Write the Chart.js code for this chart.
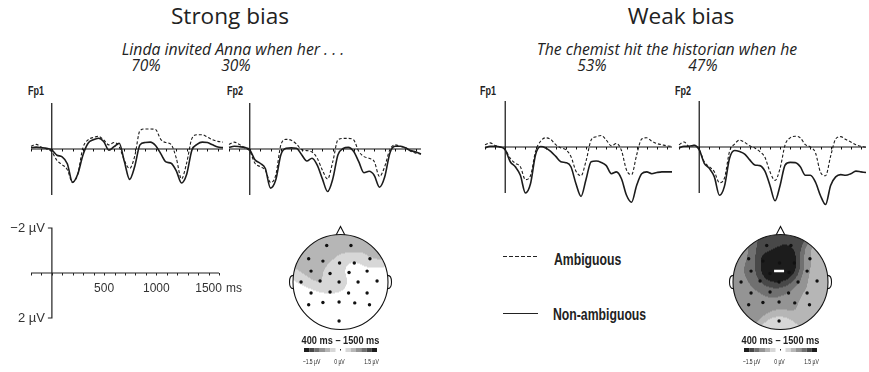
<!DOCTYPE html>
<html>
<head>
<meta charset="utf-8">
<script src="https://cdn.jsdelivr.net/npm/chart.js@4"></script>
<style>
  body { margin: 0; background: #fff; width: 869px; height: 372px; overflow: hidden; position: relative; font-family: "Open Sans", sans-serif; color: #222; }
  canvas { position: absolute; }
  .t { position: absolute; white-space: nowrap; }
  .title { font-size: 22.6px; line-height: 22px; width: 300px; text-align: center; }
  .sub { font-style: italic; font-size: 15.8px; line-height: 16px; width: 360px; text-align: center; }
  .pct { font-style: italic; font-size: 15.5px; line-height: 16px; width: 60px; text-align: center; }
  .narrow { font-family: "Liberation Sans", Arial, sans-serif; font-weight: bold; transform-origin: 0 0; }
  .el { font-size: 12px; line-height: 12px; transform: scaleX(0.75); }
  .leg { font-size: 17px; line-height: 17px; transform: scaleX(0.72); }
  .swatch { position: absolute; width: 35px; }
</style>
</head>
<body>

<div class="t title" style="left:80px;top:5px">Strong bias</div>
<div class="t sub" style="left:53px;top:41px">Linda invited Anna when her . . .</div>
<div class="t pct" style="left:116px;top:57px">70%</div>
<div class="t pct" style="left:206px;top:57px">30%</div>

<div class="t title" style="left:531px;top:5px">Weak bias</div>
<div class="t sub" style="left:487px;top:41px">The chemist hit the historian when he</div>
<div class="t pct" style="left:562px;top:57px">53%</div>
<div class="t pct" style="left:673px;top:57px">47%</div>

<div class="t narrow el" style="left:28px;top:85px">Fp1</div>
<div class="t narrow el" style="left:227px;top:85px">Fp2</div>
<div class="t narrow el" style="left:480px;top:85px">Fp1</div>
<div class="t narrow el" style="left:675px;top:85px">Fp2</div>

<canvas id="strongFp1" width="208" height="124" style="left:23px;top:91px"></canvas>
<canvas id="strongFp2" width="208" height="124" style="left:221px;top:91px"></canvas>
<canvas id="weakFp1" width="203" height="124" style="left:477px;top:89px"></canvas>
<canvas id="weakFp2" width="203" height="124" style="left:671px;top:89px"></canvas>

<canvas id="scaleBar" width="260" height="133" style="left:0px;top:215px"></canvas>
<canvas id="strongTopo" width="121" height="145" style="left:280px;top:222px"></canvas>
<canvas id="weakTopo" width="121" height="145" style="left:720px;top:222px"></canvas>

<div class="swatch" style="left:503px;top:256px;height:1px;background:repeating-linear-gradient(90deg,#222 0 4px,transparent 4px 6px)"></div>
<div class="t narrow leg" style="left:554px;top:251px">Ambiguous</div>
<div class="swatch" style="left:503px;top:313px;height:1.3px;background:#222"></div>
<div class="t narrow leg" style="left:553px;top:306px">Non-ambiguous</div>

<script>
// time axis (ms) shared by all waveforms
const times = [-200,-150,-100,-50,0,50,100,150,200,250,300,350,400,450,500,550,600,650,700,750,
  800,850,900,950,1000,1050,1100,1150,1200,1250,1300,1350,1400,1450,1500,1550,1600,1650];

// amplitudes in µV (negative plotted up)
const strongFp1Amb = [-0.12,-0.20,-0.08,0.00,0.12,0.50,0.68,0.90,1.45,1.10,-0.05,-0.40,-0.50,-0.55,-0.40,-0.18,-0.28,-0.10,0.50,0.85,
  0.30,-0.80,-0.87,-0.87,-0.85,-0.42,-0.28,-0.20,0.40,1.30,0.60,-0.45,-0.62,-0.62,-0.52,-0.40,-0.33,-0.30];
const strongFp1Non = [-0.06,-0.08,-0.06,-0.03,0.04,0.27,0.34,0.64,1.45,1.10,0.27,-0.25,-0.40,-0.47,-0.33,0.05,-0.10,-0.25,0.55,1.32,
  0.75,-0.18,-0.28,-0.30,-0.15,0.20,0.56,0.62,0.95,1.48,1.10,0.05,-0.20,-0.30,-0.28,-0.18,-0.09,-0.06];
const strongFp2Amb = [-0.20,-0.30,-0.20,-0.05,0.10,0.62,0.77,0.92,1.45,1.15,-0.18,-0.42,-0.38,-0.22,0.03,0.07,0.13,0.40,0.92,1.30,
  0.55,-0.40,-0.46,-0.46,-0.40,0.10,0.33,0.40,0.55,1.20,0.77,0.03,-0.18,-0.12,-0.05,0.10,0.18,0.22];
const strongFp2Non = [-0.07,-0.12,-0.10,-0.07,0.03,0.47,0.62,0.85,1.70,1.35,0.25,-0.03,-0.05,-0.03,0.25,0.52,0.40,0.70,1.30,1.85,
  1.30,0.25,-0.02,-0.07,0.10,0.55,1.03,0.97,1.15,1.66,1.22,0.18,-0.12,-0.12,-0.05,0.07,0.13,0.22];
const weakFp1Amb = [-0.10,-0.18,-0.07,0.00,0.12,0.49,0.71,0.86,1.42,1.25,0.19,-0.25,-0.40,-0.33,-0.10,0.04,0.12,0.41,1.05,1.25,
  0.60,-0.30,-0.45,-0.50,-0.30,-0.05,-0.15,0.15,1.00,1.20,0.35,-0.35,-0.40,-0.25,-0.15,-0.10,-0.05,-0.03];
const weakFp1Non = [0.04,-0.03,-0.03,0.00,0.12,0.64,0.86,1.23,2.00,1.60,0.34,-0.02,0.04,0.19,0.41,0.64,0.68,0.86,1.60,2.15,
  1.40,0.64,0.61,0.67,0.81,1.16,1.08,1.38,2.10,2.40,1.67,1.16,1.08,1.16,1.11,1.08,1.08,1.08];
const weakFp2Amb = [-0.10,-0.22,-0.03,-0.07,0.12,0.64,0.86,1.08,1.55,1.35,0.19,-0.13,-0.30,-0.20,-0.05,0.04,0.20,0.45,1.08,1.45,
  0.93,-0.10,-0.40,-0.47,-0.40,-0.10,0.00,0.25,1.10,1.25,0.40,-0.35,-0.45,-0.33,-0.22,-0.10,-0.03,0.01];
const weakFp2Non = [0.04,-0.03,-0.03,-0.07,0.12,0.71,0.93,1.30,2.10,1.70,0.49,0.15,0.20,0.31,0.56,0.78,0.81,1.05,1.67,2.34,
  1.67,0.78,0.67,0.68,0.86,1.23,1.23,1.53,2.12,2.50,1.67,1.30,1.20,1.23,1.16,1.05,1.08,1.11];

// calibration bar
const scaleTimeTicks = [500, 1000, 1500];
const scaleVoltTicks = [-2, 2];
const tickStep = 100;

// electrode layout (head units, nose up) and mean amplitude 400-1500 ms
const electrodeX = [-0.29,0.22,-0.67,-0.37,-0.02,0.29,0.62,-0.62,-0.22,0.18,0.56,-0.83,-0.43,-0.03,0.37,0.77,
  -0.62,-0.22,0.17,0.56,-0.67,-0.37,-0.03,0.30,0.61,-0.03];
const electrodeY = [-0.77,-0.77,-0.49,-0.44,-0.40,-0.40,-0.49,-0.23,-0.18,-0.20,-0.23,0.00,-0.02,0.00,0.00,-0.02,
  0.23,0.21,0.23,0.23,0.48,0.43,0.42,0.44,0.48,0.82];
const strongTopo = [-0.72,-0.72,-0.72,-0.72,-0.45,-0.20,-0.65,-0.72,-0.10,-0.05,-0.08,-0.20,-0.72,-0.68,-0.05,-0.02,
  -0.10,-0.30,-0.10,0.00,0.00,0.00,0.00,-0.05,0.00,0.00];
const weakTopo = [-1.25,-1.45,-0.85,-1.75,-2.10,-1.75,-0.62,-1.05,-2.10,-1.95,-0.65,-0.90,-1.15,-1.50,-0.95,-0.55,
  -0.92,-1.05,-0.95,-0.68,-0.82,-0.90,-0.90,-0.80,-0.52,-0.35];
const weakPeak = [{ x: -0.03, y: -0.23 }];

const grayLevels = [255, 215, 182, 148, 112, 72, 28];
const bandStep = 0.25;
const colorbarLabels = ['\u22121.5 \u00b5V', '0 \u00b5V', '1.5 \u00b5V'];

const lineColor = '#1c1c1c';

const erpAxes = {
  id: 'erpAxes',
  beforeDatasetsDraw(chart) {
    const { ctx, scales: { x, y } } = chart;
    const x0 = x.getPixelForValue(0), y0 = y.getPixelForValue(0);
    ctx.save();
    ctx.strokeStyle = '#111';
    ctx.lineWidth = 1.2;
    ctx.beginPath();
    ctx.moveTo(x.getPixelForValue(x.min), y0);
    ctx.lineTo(x.getPixelForValue(x.max), y0);
    ctx.moveTo(x0, y.getPixelForValue(-2));
    ctx.lineTo(x0, y.getPixelForValue(2));
    ctx.stroke();
    ctx.lineWidth = 1;
    ctx.beginPath();
    for (let t = Math.ceil(x.min / tickStep) * tickStep; t <= x.max; t += tickStep) {
      const px = Math.round(x.getPixelForValue(t)) + 0.5;
      ctx.moveTo(px, y0);
      ctx.lineTo(px, y0 + 2.5);
    }
    ctx.stroke();
    ctx.restore();
  }
};

function erpPanel(id, amb, non) {
  const pts = vals => times.map((t, i) => ({ x: t, y: vals[i] }));
  new Chart(document.getElementById(id), {
    type: 'line',
    data: {
      datasets: [
        { label: 'Ambiguous', data: pts(amb), borderColor: lineColor, borderWidth: 1.1, borderDash: [3, 2], clip: false },
        { label: 'Non-ambiguous', data: pts(non), borderColor: lineColor, borderWidth: 1.6, clip: false }
      ]
    },
    options: {
      responsive: false,
      animation: false,
      events: [],
      layout: { padding: { left: 8, right: 8, top: 12, bottom: 20 } },
      elements: { point: { radius: 0 }, line: { cubicInterpolationMode: 'monotone' } },
      plugins: { legend: { display: false }, tooltip: { enabled: false } },
      scales: {
        x: { type: 'linear', min: -200, max: 1650, display: false },
        y: { min: -2, max: 2, reverse: true, display: false }
      }
    },
    plugins: [erpAxes]
  });
}

erpPanel('strongFp1', strongFp1Amb, strongFp1Non);
erpPanel('strongFp2', strongFp2Amb, strongFp2Non);
erpPanel('weakFp1', weakFp1Amb, weakFp1Non);
erpPanel('weakFp2', weakFp2Amb, weakFp2Non);

// condensed text helper for canvas labels
function narrowText(ctx, text, x, y, font, sx, align) {
  ctx.save();
  ctx.font = font;
  ctx.textAlign = align;
  ctx.translate(x, y);
  ctx.scale(sx, 1);
  ctx.fillText(text, 0, 0);
  ctx.restore();
}

// calibration bar
const scaleBarPlugin = {
  id: 'scaleBar',
  afterDraw(chart) {
    const { ctx, scales: { x, y } } = chart;
    const x0 = x.getPixelForValue(0), y0 = y.getPixelForValue(0);
    ctx.save();
    ctx.strokeStyle = '#222';
    ctx.lineWidth = 1.2;
    ctx.beginPath();
    ctx.moveTo(x.getPixelForValue(x.min), y0);
    ctx.lineTo(x.getPixelForValue(x.max), y0);
    ctx.moveTo(x0 - 4, y.getPixelForValue(scaleVoltTicks[0]));
    ctx.lineTo(x0, y.getPixelForValue(scaleVoltTicks[0]));
    ctx.lineTo(x0, y.getPixelForValue(scaleVoltTicks[1]));
    ctx.lineTo(x0 - 4, y.getPixelForValue(scaleVoltTicks[1]));
    ctx.stroke();
    ctx.lineWidth = 1;
    ctx.beginPath();
    for (let t = x.min; t <= x.max; t += tickStep) {
      const px = Math.round(x.getPixelForValue(t)) + 0.5;
      ctx.moveTo(px, y0);
      ctx.lineTo(px, y0 + 2.5);
    }
    ctx.stroke();
    ctx.fillStyle = '#333';
    ctx.font = '12px "Liberation Sans", Arial, sans-serif';
    ctx.textAlign = 'center';
    ctx.textBaseline = 'middle';
    scaleTimeTicks.forEach(t => ctx.fillText(String(t), x.getPixelForValue(t), y0 + 16));
    const last = scaleTimeTicks[scaleTimeTicks.length - 1];
    const w = ctx.measureText(String(last)).width;
    ctx.textAlign = 'left';
    ctx.fillText('ms', x.getPixelForValue(last) + w / 2 + 4, y0 + 16);
    ctx.font = '13px "Liberation Sans", Arial, sans-serif';
    ctx.textAlign = 'right';
    scaleVoltTicks.forEach(v => ctx.fillText((v < 0 ? '\u2212' : '') + Math.abs(v) + ' \u00b5V', x0 - 7, y.getPixelForValue(v)));
    ctx.restore();
  }
};

new Chart(document.getElementById('scaleBar'), {
  type: 'line',
  data: { datasets: [] },
  options: {
    responsive: false,
    animation: false,
    events: [],
    layout: { padding: { left: 31, right: 41, top: 13, bottom: 30 } },
    plugins: { legend: { display: false }, tooltip: { enabled: false } },
    scales: {
      x: { type: 'linear', min: -200, max: 1600, display: false },
      y: { min: -2, max: 2, reverse: true, display: false }
    }
  },
  plugins: [scaleBarPlugin]
});

// topographic maps: gaussian-weighted interpolation of electrode values
const sigma = 0.18;
function bandOf(v) {
  return Math.min(grayLevels.length - 1, Math.floor(Math.abs(v) / bandStep));
}

function interp(vx, vy, values) {
  let num = 0, den = 0;
  for (let i = 0; i < electrodeX.length; i++) {
    const dx = vx - electrodeX[i], dy = vy - electrodeY[i];
    const w = Math.exp(-(dx * dx + dy * dy) / (2 * sigma * sigma));
    num += w * values[i];
    den += w;
  }
  return den > 0 ? num / den : 0;
}

function topoPlugin(values) {
  return {
    id: 'topo',
    beforeDatasetsDraw(chart) {
      const { ctx, chartArea: a, scales: { x, y } } = chart;
      const w = Math.ceil(a.right - a.left), h = Math.ceil(a.bottom - a.top);
      const off = document.createElement('canvas');
      off.width = w; off.height = h;
      const octx = off.getContext('2d');
      const img = octx.createImageData(w, h);
      for (let py = 0; py < h; py++) {
        for (let px = 0; px < w; px++) {
          const vx = x.getValueForPixel(a.left + px + 0.5);
          const vy = y.getValueForPixel(a.top + py + 0.5);
          const g = grayLevels[bandOf(interp(vx, vy, values))];
          const k = (py * w + px) * 4;
          img.data[k] = img.data[k + 1] = img.data[k + 2] = g;
          img.data[k + 3] = 255;
        }
      }
      octx.putImageData(img, 0, 0);
      const cx = x.getPixelForValue(0), cy = y.getPixelForValue(0);
      const r = x.getPixelForValue(1) - cx;
      ctx.save();
      ctx.beginPath();
      ctx.arc(cx, cy, r, 0, Math.PI * 2);
      ctx.clip();
      ctx.drawImage(off, a.left, a.top);
      ctx.restore();

      ctx.save();
      ctx.strokeStyle = '#111';
      ctx.lineWidth = 1.1;
      ctx.beginPath();
      ctx.arc(cx, cy, r, 0, Math.PI * 2);
      ctx.stroke();
      // nose
      ctx.beginPath();
      ctx.moveTo(x.getPixelForValue(-0.09), y.getPixelForValue(-0.995));
      ctx.lineTo(x.getPixelForValue(0), y.getPixelForValue(-1.17));
      ctx.lineTo(x.getPixelForValue(0.09), y.getPixelForValue(-0.995));
      ctx.stroke();
      // ears
      [-1, 1].forEach(s => {
        ctx.beginPath();
        ctx.moveTo(x.getPixelForValue(s * 0.995), y.getPixelForValue(-0.14));
        ctx.bezierCurveTo(x.getPixelForValue(s * 1.1), y.getPixelForValue(-0.14),
          x.getPixelForValue(s * 1.1), y.getPixelForValue(0.14),
          x.getPixelForValue(s * 0.995), y.getPixelForValue(0.14));
        ctx.stroke();
      });
      ctx.restore();
    },
    afterDraw(chart) {
      const { ctx, chartArea: a, scales: { x } } = chart;
      const cx = x.getPixelForValue(0);
      ctx.save();
      ctx.fillStyle = '#222';
      ctx.textBaseline = 'alphabetic';
      narrowText(ctx, '400 ms \u2013 1500 ms', cx, a.bottom + 14, 'bold 10px "Liberation Sans", Arial, sans-serif', 0.92, 'center');
      const bw = 5.25, gap = 10, by = a.bottom + 18.5;
      const n = grayLevels.length - 1;
      for (let i = 0; i < n; i++) {
        const g = grayLevels[n - i];
        ctx.fillStyle = 'rgb(' + g + ',' + g + ',' + g + ')';
        ctx.fillRect(cx - gap / 2 - (n - i) * bw, by, bw, 4);
        const g2 = grayLevels[i + 1];
        ctx.fillStyle = 'rgb(' + g2 + ',' + g2 + ',' + g2 + ')';
        ctx.fillRect(cx + gap / 2 + i * bw, by, bw, 4);
      }
      ctx.fillStyle = '#222';
      ctx.fillRect(cx - 0.5, by + 1, 1, 1.5);
      const lf = '7px "Liberation Sans", Arial, sans-serif';
      narrowText(ctx, colorbarLabels[0], cx - 29, a.bottom + 34, lf, 0.72, 'center');
      narrowText(ctx, colorbarLabels[1], cx - 1, a.bottom + 34, lf, 0.72, 'center');
      narrowText(ctx, colorbarLabels[2], cx + 31, a.bottom + 34, lf, 0.72, 'center');
      ctx.restore();
    }
  };
}

function topoMap(id, values, peak) {
  const datasets = [{
    data: electrodeX.map((ex, i) => ({ x: ex, y: electrodeY[i] })),
    pointRadius: 1.7, backgroundColor: '#111', borderWidth: 0
  }];
  if (peak) {
    datasets.push({ data: peak, pointStyle: 'line', pointRadius: 5, borderColor: '#fff', borderWidth: 2.5 });
  }
  new Chart(document.getElementById(id), {
    type: 'scatter',
    data: { datasets },
    options: {
      responsive: false,
      animation: false,
      events: [],
      layout: { padding: { left: 13, right: 13, top: 12.5, bottom: 37.5 } },
      plugins: { legend: { display: false }, tooltip: { enabled: false } },
      scales: {
        x: { min: -1, max: 1, display: false },
        y: { min: -1, max: 1, reverse: true, display: false }
      }
    },
    plugins: [topoPlugin(values)]
  });
}

topoMap('strongTopo', strongTopo, null);
topoMap('weakTopo', weakTopo, weakPeak);
</script>
</body>
</html>
